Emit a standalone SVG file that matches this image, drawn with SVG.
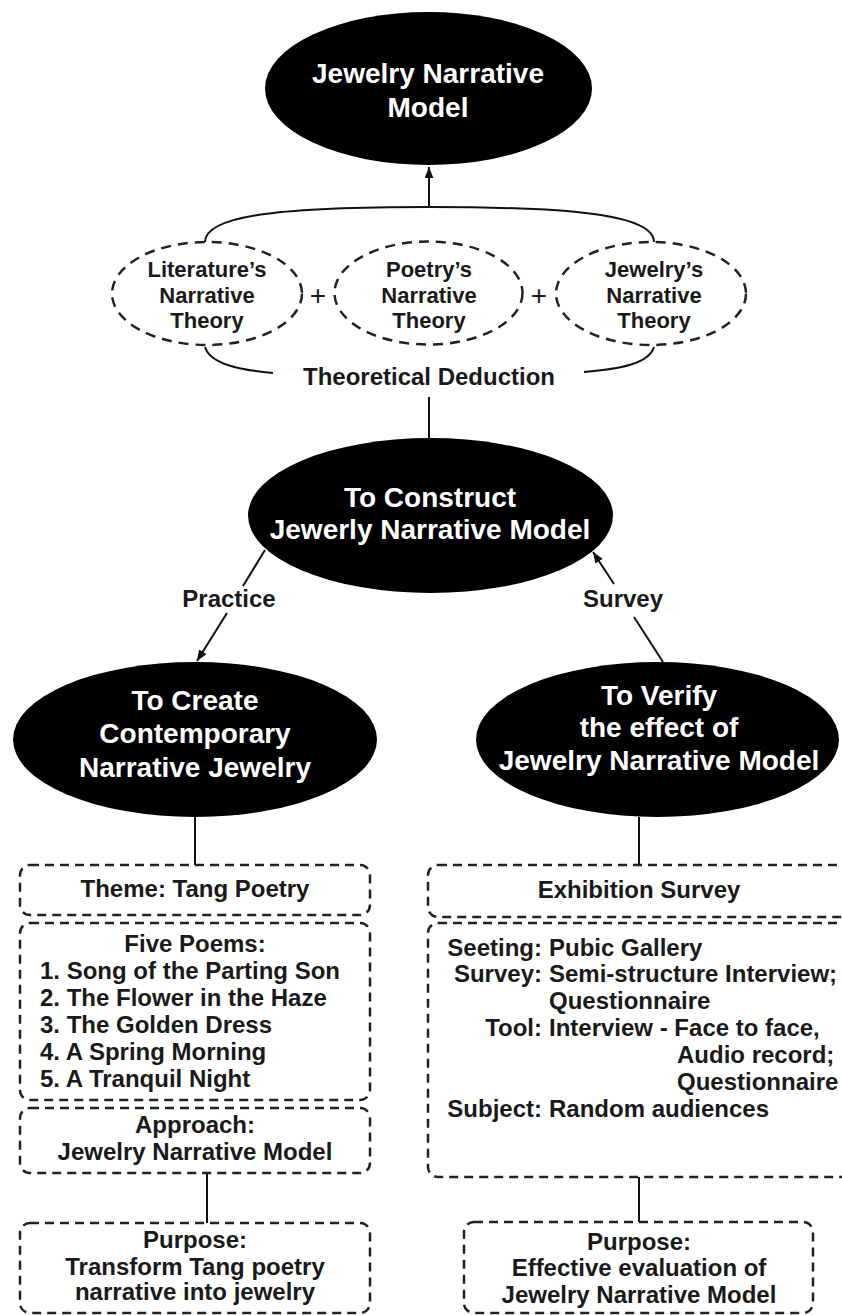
<svg xmlns="http://www.w3.org/2000/svg" width="842" height="1315" viewBox="0 0 842 1315">
  <defs>
    <marker id="arrow" viewBox="0 0 10 8" refX="10" refY="4" markerWidth="11" markerHeight="9" markerUnits="userSpaceOnUse" orient="auto">
      <path d="M0,0 L10,4 L0,8 Z" fill="#111"/>
    </marker>
    <style>
      text { font-family: "Liberation Sans", Arial, sans-serif; font-weight: bold; fill: #1a1a1a; }
      .big { font-size: 28px; fill: #fff; text-anchor: middle; }
      .theory { font-size: 22px; text-anchor: middle; }
      .lbl { font-size: 24px; text-anchor: middle; }
      .box { font-size: 24px; }
      .mid { text-anchor: middle; }
      .end { text-anchor: end; }
      .plus { font-size: 28px; font-weight: normal; text-anchor: middle; }
      .solid { fill: #000; }
      .dash-ell { fill: none; stroke: #222; stroke-width: 2.5; stroke-dasharray: 10 7; }
      .dash-box { fill: none; stroke: #222; stroke-width: 2.5; stroke-dasharray: 9 6; }
      .link { fill: none; stroke: #111; stroke-width: 2; }
    </style>
  </defs>

  <rect width="842" height="1315" fill="#fff"/>

  <!-- connectors -->
  <g id="connectors">
    <line class="link" x1="429" y1="208" x2="429" y2="167" marker-end="url(#arrow)"/>
    <path class="link" d="M205,242 C205,214 290,207 429,207 C568,207 654,214 654,242"/>
    <path class="link" d="M205,347 C210,364 240,370 273,373"/>
    <path class="link" d="M654,347 C649,364 619,369 584,372"/>
    <line class="link" x1="429" y1="397" x2="429" y2="439"/>
    <!-- Practice -->
    <line class="link" x1="265" y1="550" x2="243" y2="586"/>
    <line class="link" x1="227" y1="613" x2="197" y2="661" marker-end="url(#arrow)"/>
    <!-- Survey -->
    <line class="link" x1="663" y1="662" x2="634" y2="617"/>
    <line class="link" x1="614" y1="584" x2="593" y2="552" marker-end="url(#arrow)"/>
    <line class="link" x1="195" y1="817" x2="195" y2="865"/>
    <line class="link" x1="207" y1="1173" x2="207" y2="1223"/>
    <line class="link" x1="639" y1="817" x2="639" y2="865"/>
    <line class="link" x1="639" y1="1177" x2="639" y2="1222"/>
  </g>

  <g id="edge-labels">
    <text class="lbl" x="429" y="385">Theoretical Deduction</text>
    <text class="lbl" x="229" y="607">Practice</text>
    <text class="lbl" x="623" y="607">Survey</text>
    <text class="plus" x="318" y="305">+</text>
    <text class="plus" x="539" y="305">+</text>
  </g>

  <!-- top node -->
  <g id="jewelry-narrative-model">
    <ellipse class="solid" cx="428.5" cy="88.5" rx="163.5" ry="76.5"/>
    <text class="big" x="428" y="83">Jewelry Narrative</text>
    <text class="big" x="428" y="117">Model</text>
  </g>

  <!-- theory sources -->
  <g id="literature-theory">
    <ellipse class="dash-ell" cx="207" cy="293.5" rx="95" ry="51.5"/>
    <text class="theory" x="207" y="277">Literature’s</text>
    <text class="theory" x="207" y="303">Narrative</text>
    <text class="theory" x="207" y="328">Theory</text>
  </g>
  <g id="poetry-theory">
    <ellipse class="dash-ell" cx="428.5" cy="293" rx="94" ry="51.5"/>
    <text class="theory" x="429" y="277">Poetry’s</text>
    <text class="theory" x="429" y="303">Narrative</text>
    <text class="theory" x="429" y="328">Theory</text>
  </g>
  <g id="jewelry-theory">
    <ellipse class="dash-ell" cx="651" cy="293.5" rx="95" ry="51.5"/>
    <text class="theory" x="654" y="277">Jewelry’s</text>
    <text class="theory" x="654" y="303">Narrative</text>
    <text class="theory" x="654" y="328">Theory</text>
  </g>

  <!-- construct -->
  <g id="construct-model">
    <ellipse class="solid" cx="430.5" cy="515.5" rx="182.5" ry="77.5"/>
    <text class="big" x="430" y="507">To Construct</text>
    <text class="big" x="430" y="539">Jewerly Narrative Model</text>
  </g>

  <!-- create -->
  <g id="create-jewelry">
    <ellipse class="solid" cx="195" cy="739.5" rx="182" ry="77.5"/>
    <text class="big" x="195" y="710">To Create</text>
    <text class="big" x="195" y="743">Contemporary</text>
    <text class="big" x="195" y="777">Narrative Jewelry</text>
  </g>

  <!-- verify -->
  <g id="verify-model">
    <ellipse class="solid" cx="657.5" cy="739.5" rx="181.5" ry="77.5"/>
    <text class="big" x="659" y="705">To Verify</text>
    <text class="big" x="659" y="737">the effect of</text>
    <text class="big" x="659" y="770">Jewelry Narrative Model</text>
  </g>

  <!-- left column boxes -->
  <g id="theme-box">
    <rect class="dash-box" x="20" y="865" width="350" height="50" rx="10"/>
    <text class="box mid" x="195" y="897">Theme: Tang Poetry</text>
  </g>
  <g id="poems-box">
    <rect class="dash-box" x="20" y="923" width="350" height="177" rx="10"/>
    <text class="box mid" x="195" y="952">Five Poems:</text>
    <text class="box" x="40" y="979">1. Song of the Parting Son</text>
    <text class="box" x="40" y="1006">2. The Flower in the Haze</text>
    <text class="box" x="40" y="1033">3. The Golden Dress</text>
    <text class="box" x="40" y="1060">4. A Spring Morning</text>
    <text class="box" x="40" y="1087">5. A Tranquil Night</text>
  </g>
  <g id="approach-box">
    <rect class="dash-box" x="20" y="1108" width="350" height="65" rx="10"/>
    <text class="box mid" x="195" y="1133">Approach:</text>
    <text class="box mid" x="195" y="1160">Jewelry Narrative Model</text>
  </g>
  <g id="purpose-left">
    <rect class="dash-box" x="20" y="1223" width="350" height="90" rx="10"/>
    <text class="box mid" x="195" y="1248">Purpose:</text>
    <text class="box mid" x="195" y="1275">Transform Tang poetry</text>
    <text class="box mid" x="195" y="1300">narrative into jewelry</text>
  </g>

  <!-- right column boxes -->
  <g id="exhibition-box">
    <rect class="dash-box" x="428" y="865" width="430" height="52" rx="10"/>
    <text class="box mid" x="639" y="898">Exhibition Survey</text>
  </g>
  <g id="survey-details">
    <rect class="dash-box" x="428" y="923" width="430" height="254" rx="10"/>
    <text class="box end" x="542" y="956">Seeting:</text>
    <text class="box" x="549" y="956">Pubic Gallery</text>
    <text class="box end" x="542" y="982">Survey:</text>
    <text class="box" x="549" y="982">Semi-structure Interview;</text>
    <text class="box" x="549" y="1009">Questionnaire</text>
    <text class="box end" x="542" y="1036">Tool:</text>
    <text class="box" x="549" y="1036">Interview - Face to face,</text>
    <text class="box" x="677" y="1063">Audio record;</text>
    <text class="box" x="677" y="1090">Questionnaire</text>
    <text class="box end" x="542" y="1117">Subject:</text>
    <text class="box" x="549" y="1117">Random audiences</text>
  </g>
  <g id="purpose-right">
    <rect class="dash-box" x="464" y="1222" width="349" height="91" rx="10"/>
    <text class="box mid" x="639" y="1250">Purpose:</text>
    <text class="box mid" x="639" y="1276">Effective evaluation of</text>
    <text class="box mid" x="639" y="1303">Jewelry Narrative Model</text>
  </g>
</svg>
